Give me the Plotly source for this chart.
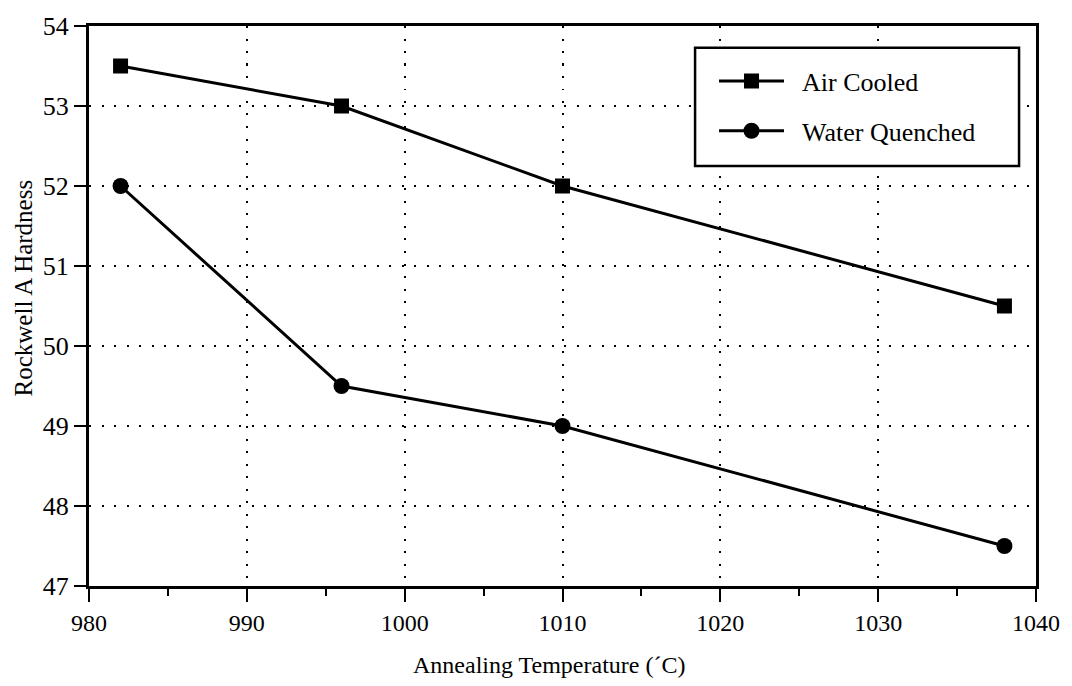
import plotly.graph_objects as go

# Annealing temperatures (°C) and Rockwell A hardness for each cooling route
temperature = [982, 996, 1010, 1038]
air_cooled = [53.5, 53.0, 52.0, 50.5]
water_quenched = [52.0, 49.5, 49.0, 47.5]

x_ticks = [980, 990, 1000, 1010, 1020, 1030, 1040]
y_ticks = [47, 48, 49, 50, 51, 52, 53, 54]

FONT = "Liberation Serif"
W, H = 1072, 686
L, R, T, B = 89, 33, 18, 100
PW, PH = W - L - R, H - T - B


def px_x(p):
    """Pixel column -> paper x."""
    return (p - L) / PW


def px_y(p):
    """Pixel row -> paper y."""
    return 1 - (p - T) / PH


fig = go.Figure()
fig.add_trace(go.Scatter(
    x=temperature, y=air_cooled, name="\u00a0\u00a0Air Cooled",
    mode="lines+markers",
    line=dict(color="black", width=3),
    marker=dict(symbol="square", size=15, color="black"),
    legendgroup="a",
))
fig.add_trace(go.Scatter(
    x=temperature, y=water_quenched, name="\u00a0\u00a0Water Quenched",
    mode="lines+markers",
    line=dict(color="black", width=3),
    marker=dict(symbol="circle", size=16, color="black"),
    legendgroup="b",
))

axis_common = dict(
    showline=True, linecolor="black", linewidth=3, mirror=True,
    ticks="outside", tickcolor="black", tickwidth=2,
    showgrid=True, gridcolor="black", gridwidth=2, griddash="2px,10.5px",
    zeroline=False,
)

fig.update_xaxes(
    **axis_common,
    range=[980, 1040], tickvals=x_ticks, ticklen=13,
    tickfont=dict(family=FONT, size=24, color="black"),
    minor=dict(ticks="outside", ticklen=7, tickwidth=2, tickcolor="black",
               dtick=5, showgrid=False),
)
fig.update_yaxes(
    **axis_common,
    range=[47, 54], tickvals=y_ticks, ticklen=12,
    tickfont=dict(family=FONT, size=26, color="black"),
)

# Axis titles
fig.add_annotation(
    text="Annealing Temperature (´C)", xref="paper", yref="paper",
    x=px_x(550), y=px_y(666), xanchor="center", yanchor="middle",
    showarrow=False, font=dict(family=FONT, size=24, color="black"),
)
fig.add_annotation(
    text="Rockwell A Hardness", xref="paper", yref="paper",
    x=px_x(23), y=px_y(284), xanchor="center", yanchor="middle",
    textangle=-90, showarrow=False,
    font=dict(family=FONT, size=25, color="black"),
)

# Legend frame
fig.add_shape(
    type="rect", xref="paper", yref="paper",
    x0=px_x(697), x1=px_x(1022), y0=px_y(160), y1=px_y(40),
    line=dict(color="black", width=2.5), fillcolor="white", layer="above",
)

fig.update_layout(
    width=W, height=H,
    margin=dict(l=L, r=R, t=T, b=B),
    paper_bgcolor="white", plot_bgcolor="white",
    font=dict(family=FONT, color="black"),
    showlegend=True,
    legend=dict(
        x=px_x(716), y=px_y(50), xanchor="left", yanchor="top",
        bgcolor="rgba(0,0,0,0)", borderwidth=0,
        font=dict(family=FONT, size=26, color="black"),
        tracegroupgap=13, itemwidth=65,
    ),
)

fig.write_html("out.html")
